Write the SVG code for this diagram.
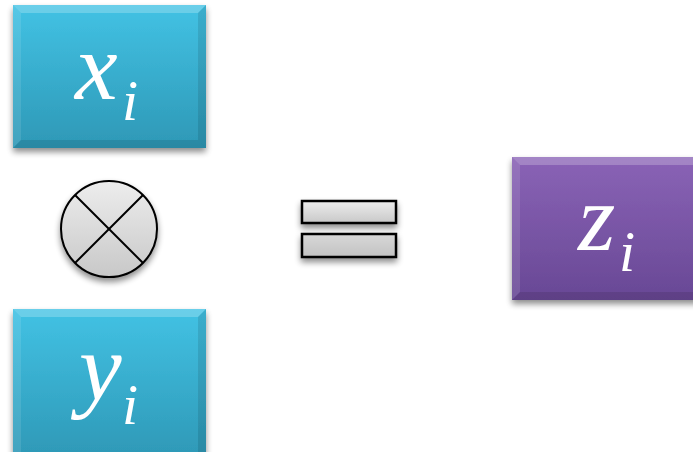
<svg xmlns="http://www.w3.org/2000/svg" width="693" height="452" viewBox="0 0 693 452">
<defs>
<linearGradient id="gb" x1="0" y1="0" x2="0" y2="1"><stop offset="0" stop-color="#42C2E4"/><stop offset="1" stop-color="#2E98B6"/></linearGradient>
<linearGradient id="gp" x1="0" y1="0" x2="0" y2="1"><stop offset="0" stop-color="#8A63B6"/><stop offset="1" stop-color="#684895"/></linearGradient>
<linearGradient id="gg" x1="0" y1="0" x2="0" y2="1"><stop offset="0" stop-color="#EDEDED"/><stop offset="1" stop-color="#C8C8C8"/></linearGradient>
<linearGradient id="gg2" x1="0" y1="0" x2="0" y2="1"><stop offset="0" stop-color="#D8D8D8"/><stop offset="1" stop-color="#C2C2C2"/></linearGradient>
<filter id="sh" x="-20%" y="-20%" width="140%" height="140%"><feGaussianBlur in="SourceAlpha" stdDeviation="3"/><feOffset dx="0" dy="4"/><feComponentTransfer><feFuncA type="linear" slope="0.45"/></feComponentTransfer><feMerge><feMergeNode/><feMergeNode in="SourceGraphic"/></feMerge></filter>
</defs>
<style>
.t{font-family:"Liberation Serif","DejaVu Serif",serif;font-style:italic;fill:#fff}
.m{font-size:96px}
.s{font-size:58px}
.hl{fill:#fff;opacity:0.22}
.hs{fill:#fff;opacity:0.1}
.dk{fill:#000;opacity:0.1}
</style>
<g id="node-x" filter="url(#sh)">
<rect x="13" y="5" width="193" height="143" fill="url(#gb)"/>
<polygon class="hl" points="13,5 206,5 198,13 21,13"/>
<polygon class="hs" points="13,5 21,13 21,140 13,148"/>
<polygon class="dk" points="206,5 206,148 198,140 198,13"/>
<polygon class="dk" points="13,148 206,148 198,140 21,140"/>
<text class="t m" x="75" y="99">x</text>
<text class="t s" x="122" y="120">i</text>
</g>
<g id="node-y" filter="url(#sh)">
<rect x="13" y="309" width="193" height="150" fill="url(#gb)"/>
<polygon class="hl" points="13,309 206,309 198,317 21,317"/>
<polygon class="hs" points="13,309 21,317 21,452 13,452"/>
<polygon class="dk" points="206,309 206,452 198,452 198,317"/>
<text class="t m" x="79" y="400">y</text>
<text class="t s" x="122" y="424">i</text>
</g>
<g id="node-z" filter="url(#sh)">
<rect x="512" y="157" width="190" height="143" fill="url(#gp)"/>
<polygon class="hl" points="512,157 693,157 693,165 520,165"/>
<polygon class="hs" points="512,157 520,165 520,292 512,300"/>
<polygon class="dk" points="512,300 693,300 693,292 520,292"/>
<text class="t m" x="578" y="250">z</text>
<text class="t s" x="619" y="271">i</text>
</g>
<g id="node-times" filter="url(#sh)">
<circle cx="109" cy="229" r="48" fill="url(#gg)" stroke="#000" stroke-width="2"/>
<line x1="75" y1="195" x2="143" y2="263" stroke="#000" stroke-width="2"/>
<line x1="143" y1="195" x2="75" y2="263" stroke="#000" stroke-width="2"/>
</g>
<g id="node-equals" filter="url(#sh)">
<rect x="302" y="201" width="94" height="22" fill="url(#gg)" stroke="#000" stroke-width="2.5"/>
<rect x="302" y="234" width="94" height="23" fill="url(#gg2)" stroke="#000" stroke-width="2.5"/>
</g>
<g id="connectors"></g>
</svg>
